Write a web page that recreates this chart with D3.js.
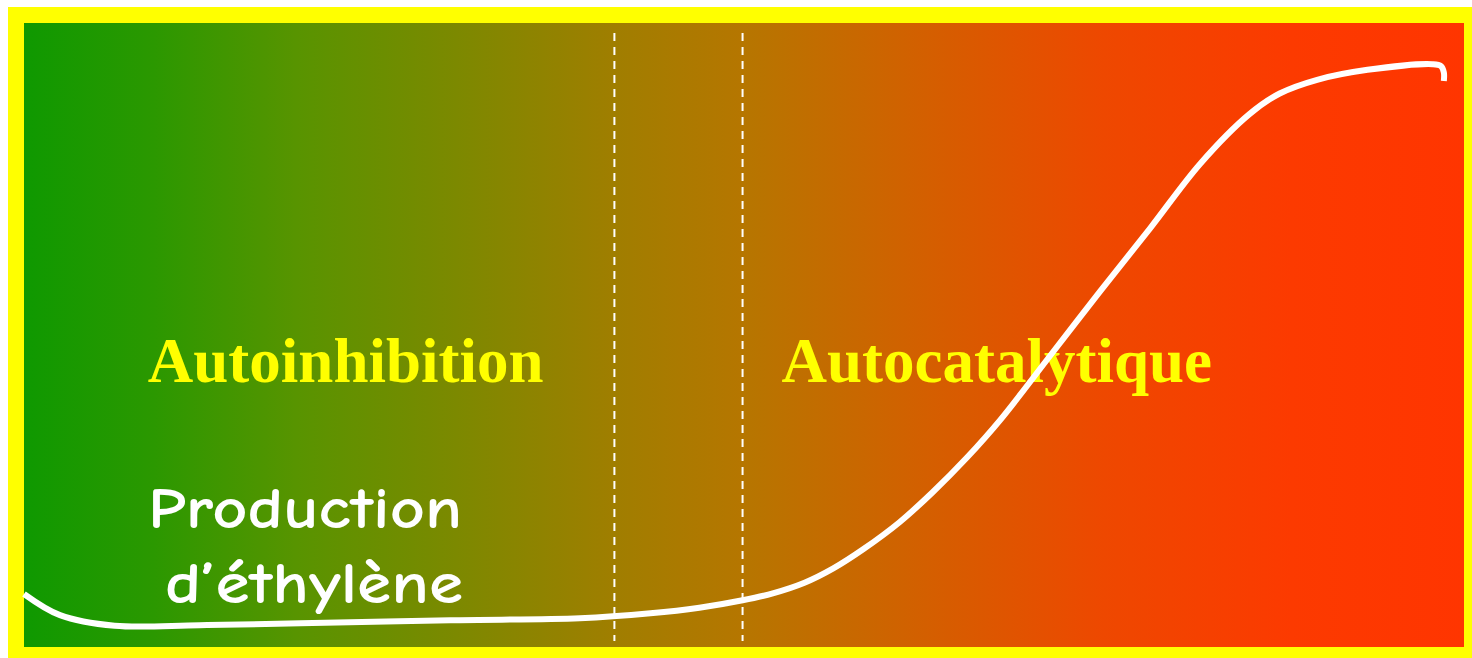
<!DOCTYPE html>
<html>
<head>
<meta charset="utf-8">
<script src="https://cdn.jsdelivr.net/npm/d3@7"></script>
<style>
  body { margin: 0; background: #fff; }
  svg { display: block; }
</style>
</head>
<body>
<svg id="chart"></svg>
<script>
// time (0-100) vs ethylene production (0-100)
var timeVals = [0, 2.5, 6.3, 12.2, 19.2, 29.6, 38.6, 43.5, 46.9, 49.9, 52.0, 54.2, 56.2, 58.3, 60.8, 63.1,
    65.5, 67.8, 71.3, 74.7, 78.2, 81.7, 85.1, 87.2, 89.8, 93.3, 97.8, 98.4, 98.6, 98.6];
var prodVals = [8.5, 5.1, 3.4, 3.5, 3.8, 4.3, 4.6, 5.4, 6.3, 7.5, 8.6, 10.3, 12.6, 15.7, 20.0, 24.8,
    30.4, 36.4, 46.8, 56.9, 67.1, 77.5, 85.4, 88.7, 90.9, 92.5, 93.4, 93.1, 92.1, 90.7];
var phaseBounds = [41.0, 49.9];
var phaseLabels = ["Autoinhibition", "Autocatalytique"];
var phaseLabelX = [8.6, 52.6];
var seriesLabel = ["Production", "d\u2019éthylène"];

var W = 1472, H = 658;
var inner = {left: 24, top: 23, right: 1464, bottom: 647};

var svg = d3.select('#chart').attr('width', W).attr('height', H);

var x = d3.scaleLinear().domain([0, 100]).range([inner.left, inner.right]);
var y = d3.scaleLinear().domain([0, 100]).range([inner.bottom, inner.top]);

// gradient background
var grad = svg.append('defs').append('linearGradient')
    .attr('id', 'bg').attr('x1', '0%').attr('x2', '100%').attr('y1', '0%').attr('y2', '0%');
[[0, '#0f9900'], [0.09, '#2b9800'], [0.19, '#589400'], [0.41, '#a07e00'], [0.5, '#b67600'],
 [0.61, '#d06200'], [0.75, '#ee4800'], [0.88, '#fc3a00'], [1, '#ff3500']].forEach(function (s) {
    grad.append('stop').attr('offset', s[0]).attr('stop-color', s[1]);
});

svg.append('rect').attr('x', 8).attr('y', 7).attr('width', W - 8).attr('height', H - 7)
    .attr('fill', '#ffff00');
svg.append('rect').attr('x', inner.left).attr('y', inner.top)
    .attr('width', inner.right - inner.left).attr('height', inner.bottom - inner.top)
    .attr('fill', 'url(#bg)');

// phase boundaries
svg.selectAll('.bound').data(phaseBounds).enter().append('line')
    .attr('class', 'bound')
    .attr('x1', function (d) { return x(d); }).attr('x2', function (d) { return x(d); })
    .attr('y1', 33).attr('y2', 641)
    .attr('stroke', '#fff').attr('stroke-width', 2).attr('stroke-dasharray', '8,6');

// phase names
svg.selectAll('.phase').data(phaseLabels).enter().append('text')
    .attr('class', 'phase')
    .attr('x', function (d, i) { return x(phaseLabelX[i]); })
    .attr('y', 382)
    .attr('font-family', '"Liberation Serif", "Times New Roman", serif')
    .attr('font-weight', 'bold').attr('font-size', 63)
    .attr('fill', '#ffff00')
    .text(function (d) { return d; });

// curve
var pts = timeVals.map(function (t, i) { return {x: t, y: prodVals[i]}; });
var line = d3.line().curve(d3.curveCatmullRom.alpha(0.5))
    .x(function (d) { return x(d.x); })
    .y(function (d) { return y(d.y); });
svg.append('path').datum(pts)
    .attr('d', line)
    .attr('fill', 'none').attr('stroke', '#fff').attr('stroke-width', 6)
    .attr('stroke-linejoin', 'round');

// series label
var lx = [148, 165], ly = [528, 603], lw = [314, 298];
svg.selectAll('.slabel').data(seriesLabel).enter().append('text')
    .attr('class', 'slabel')
    .attr('x', function (d, i) { return lx[i]; })
    .attr('y', function (d, i) { return ly[i]; })
    .attr('textLength', function (d, i) { return lw[i]; })
    .attr('lengthAdjust', 'spacingAndGlyphs')
    .attr('font-family', '"Comic Sans MS", "Comic Neue", "DejaVu Sans", sans-serif')
    .attr('font-weight', 'bold')
    .attr('font-size', 58)
    .attr('fill', '#fff')
    .text(function (d) { return d; });
</script>
</body>
</html>
